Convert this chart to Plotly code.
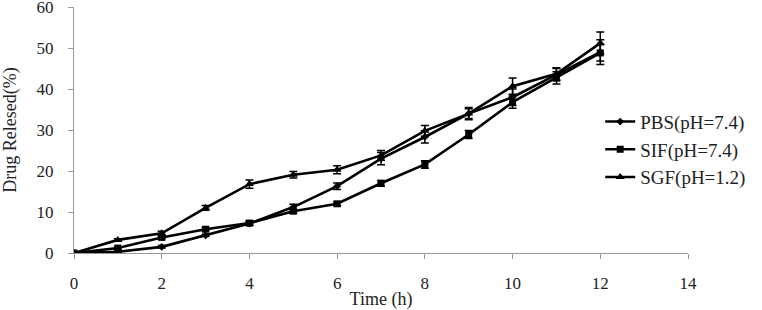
import plotly.graph_objects as go

time_h = [0, 1, 2, 3, 4, 5, 6, 7, 8, 9, 10, 11, 12]

pbs = [0, 0.3, 1.5, 4.3, 7.2, 11.2, 16.3, 23.0, 28.3, 34.0, 38.0, 43.5, 49.0]
pbs_err = [0, 0.2, 0.3, 0.3, 0.5, 0.7, 0.8, 1.5, 1.5, 1.2, 2.0, 1.5, 3.0]

sif = [0, 1.2, 3.8, 5.8, 7.3, 10.2, 12.0, 17.0, 21.6, 28.9, 36.8, 42.7, 48.8]
sif_err = [0, 0.3, 0.3, 0.4, 0.5, 0.5, 0.5, 0.7, 0.9, 1.0, 1.5, 1.5, 2.0]

sgf = [0, 3.2, 4.8, 11.0, 16.8, 19.1, 20.3, 23.8, 29.8, 34.0, 40.7, 43.7, 51.2]
sgf_err = [0, 0.3, 0.5, 0.6, 1.0, 0.8, 1.0, 1.2, 1.3, 1.5, 2.0, 1.5, 2.7]

names = ["PBS(pH=7.4)", "SIF(pH=7.4)", "SGF(pH=1.2)"]
x_ticks = [0, 2, 4, 6, 8, 10, 12, 14]
y_ticks = [0, 10, 20, 30, 40, 50, 60]

FONT = "Liberation Serif, Times New Roman, serif"

fig = go.Figure()
series = [
    (names[0], pbs, pbs_err, "diamond", 6),
    (names[1], sif, sif_err, "square", 7),
    (names[2], sgf, sgf_err, "triangle-up", 8),
]
for i, (nm, ys, es, sym, sz) in enumerate(series):
    fig.add_trace(go.Scatter(
        x=time_h, y=ys, name=nm, mode="lines+markers",
        line=dict(color="black", width=2.6),
        marker=dict(symbol=sym, size=sz, color="black"),
        error_y=dict(type="data", array=es, visible=True, color="black",
                     thickness=1.5, width=4),
        legendgroup=f"g{i}",
    ))

fig.update_layout(
    width=762, height=310,
    margin=dict(l=74, r=74, t=7, b=57, autoexpand=False),
    paper_bgcolor="white", plot_bgcolor="white",
    font=dict(family=FONT, size=17, color="#222"),
    showlegend=True,
    legend=dict(x=0.857, y=0.42, xanchor="left", yanchor="middle",
                font=dict(family=FONT, size=19, color="#222"),
                tracegroupgap=0, bgcolor="rgba(0,0,0,0)",
                itemwidth=30),
    xaxis=dict(range=[0, 14], tickvals=x_ticks, showgrid=False, zeroline=False,
               automargin=False,
               showline=True, linecolor="#999", linewidth=1,
               ticks="outside", tickcolor="#999", ticklen=5,
               ticklabelstandoff=10,
               tickfont=dict(family=FONT, size=17, color="#222"),
               title=dict(text="Time (h)", font=dict(family=FONT, size=18, color="#222"),
                          standoff=7)),
    yaxis=dict(range=[0, 60], tickvals=y_ticks, showgrid=False, zeroline=False,
               automargin=False, ticklabeloverflow="allow",
               showline=True, linecolor="#999", linewidth=1,
               ticks="outside", tickcolor="#999", ticklen=5,
               ticklabelstandoff=11,
               tickfont=dict(family=FONT, size=17, color="#222"),
               title=dict(text="Drug Relesed(%)", font=dict(family=FONT, size=18, color="#222"),
                          standoff=16)),
)

fig.write_html("out.html", config={"displayModeBar": False},
               post_script="document.body.style.margin='0';")
